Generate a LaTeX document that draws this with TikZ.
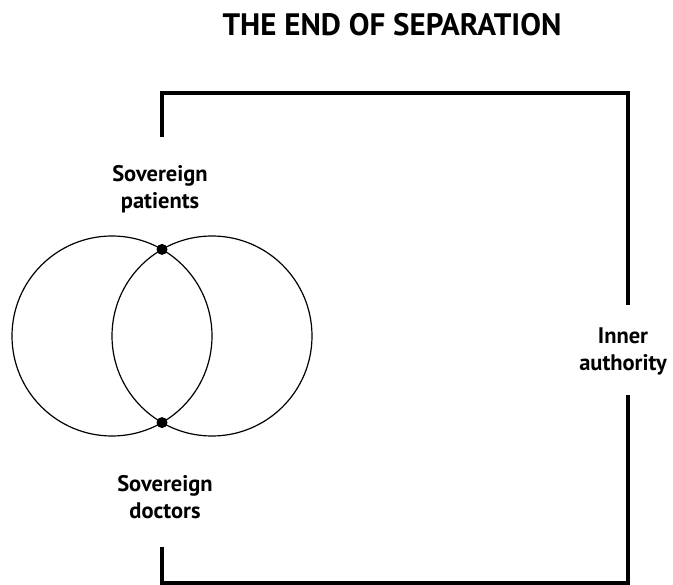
\documentclass[tikz,border=0pt]{standalone}
\usepackage{fontspec}
\setmainfont{PT Sans}
\begin{document}
\begin{tikzpicture}[
    x=1pt, y=-1pt,
    label/.style={align=center, inner sep=0pt, font=\bfseries\fontsize{22.5}{27}\selectfont},
    frame/.style={line width=4.5pt},
    ring/.style={circle, draw, line width=1.2pt, minimum size=200pt, inner sep=0pt},
    dot/.style={circle, fill, minimum size=11pt, inner sep=0pt}
  ]
  \useasboundingbox (0,0) rectangle (673,585);
  \node[font=\bfseries\fontsize{31}{36}\selectfont, inner sep=0pt] (title) at (392,25) {THE END OF SEPARATION};
  % the two circles
  \node[ring] (lc) at (112,336) {};
  \node[ring] (rc) at (212,336) {};
  \node[dot] (top) at (162,249.4) {};
  \node[dot] (bot) at (162,422.6) {};
  % labels
  \node[label] (patients) at (160,189) {Sovereign\\patients};
  \node[label] (doctors) at (165,497) {Sovereign\\doctors};
  \node[label] (authority) at (623,351) {Inner\\authority};
  % frame
  \coordinate (tl) at (162,93);
  \coordinate (tr) at (628,93);
  \coordinate (bl) at (162,583);
  \coordinate (br) at (628,583);
  \coordinate (ltop) at (162,137);
  \coordinate (rtop) at (628,305);
  \coordinate (rbot) at (628,395);
  \coordinate (lbot) at (162,547);
  \draw[frame] (ltop) -- (tl) -- (tr) -- (rtop);
  \draw[frame] (rbot) -- (br) -- (bl) -- (lbot);
\end{tikzpicture}
\end{document}
